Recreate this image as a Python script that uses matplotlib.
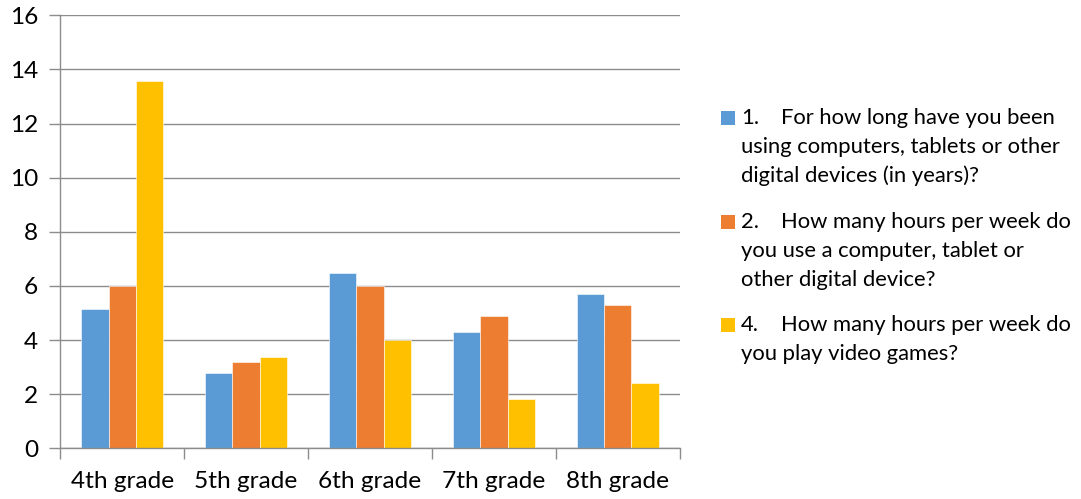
import matplotlib.pyplot as plt
import numpy as np
from matplotlib.patches import Rectangle

plt.rcParams["font.family"] = ["Lato", "DejaVu Sans"]

grades = ["4th grade", "5th grade", "6th grade", "7th grade", "8th grade"]
years_using = [5.13, 2.78, 6.49, 4.29, 5.70]
hours_device = [6.0, 3.19, 6.0, 4.90, 5.28]
hours_games = [13.57, 3.39, 4.0, 1.82, 2.41]

series_colors = ["#5B9BD5", "#ED7D31", "#FFC000"]
legend_numbers = ["1.", "2.", "4."]
legend_lines = [
    ["For how long have you been", "using computers, tablets or other", "digital devices (in years)?"],
    ["How many hours per week do", "you use a computer, tablet or", "other digital device?"],
    ["How many hours per week do", "you play video games?"],
]

W, H = 1081, 499
GRID = "#8C8C8C"
TXT = "#000000"

fig = plt.figure(figsize=(W / 100, H / 100), dpi=100)
ax = fig.add_axes([60.3 / W, (H - 448.3) / H, 619.4 / W, 433 / H])

x = np.arange(len(grades))
bw = 0.22
for i, vals in enumerate([years_using, hours_device, hours_games]):
    ax.bar(x + (i - 1) * bw, vals, width=bw, color=series_colors[i],
           edgecolor="white", linewidth=0.4, zorder=3)

ax.set_xlim(-0.5, len(grades) - 0.5)
ax.set_ylim(0, 16)
ax.set_yticks(range(0, 17, 2))
ax.yaxis.grid(True, color=GRID, linewidth=1.0, zorder=0)
ax.set_xticks(x)
ax.set_xticklabels(grades)
ax.set_xticks(np.arange(-0.5, len(grades)), minor=True)
ax.tick_params(axis="x", which="major", length=0, pad=16, labelsize=17.6, labelcolor=TXT)
ax.tick_params(axis="x", which="minor", length=8, width=1.0, color=GRID, direction="out")
ax.tick_params(axis="y", length=8, width=1.0, color=GRID, pad=8, labelsize=17.6, labelcolor=TXT)

for side in ["top", "right"]:
    ax.spines[side].set_visible(False)
for side in ["left", "bottom"]:
    ax.spines[side].set_color(GRID)
    ax.spines[side].set_linewidth(1.0)
ax.spines["bottom"].set_zorder(4)

# legend drawn by hand so the wrapped lines keep their hanging indent
line_h = 29
entry_top = [118, 222, 325]
for num, lines, color, top in zip(legend_numbers, legend_lines, series_colors, entry_top):
    fig.patches.append(Rectangle((721 / W, (H - top - 7) / H), 14 / W, 14 / H,
                                 transform=fig.transFigure, facecolor=color, edgecolor="none"))
    fig.text(741 / W, (H - top) / H, num, fontsize=15.8, va="center", ha="left", color=TXT)
    for k, line in enumerate(lines):
        xx = 781 if k == 0 else 741
        fig.text(xx / W, (H - top - k * line_h) / H, line, fontsize=15.8,
                 va="center", ha="left", color=TXT)

fig.savefig("out.png", dpi=100)
